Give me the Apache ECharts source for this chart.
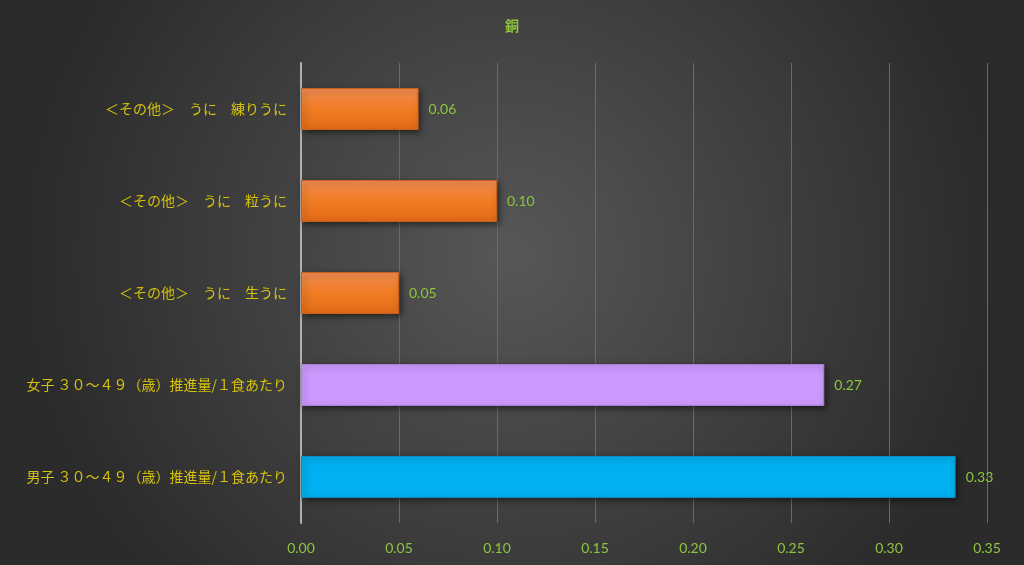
<!DOCTYPE html>
<html>
<head>
<meta charset="utf-8">
<title>銅</title>
<script src="https://cdn.jsdelivr.net/npm/echarts@6/dist/echarts.min.js"></script>
<style>
  html, body { margin: 0; padding: 0; }
  #main { width: 1024px; height: 565px; }
</style>
</head>
<body>
<div id="main"></div>
<script type="text/javascript">
// データ（下から順）
var categories = [
  '男子 ３０～４９（歳）推進量/１食あたり',
  '女子 ３０～４９（歳）推進量/１食あたり',
  '＜その他＞　うに　生うに',
  '＜その他＞　うに　粒うに',
  '＜その他＞　うに　練りうに'
];
var values = [0.334, 0.267, 0.05, 0.10, 0.06];
var xTicks = [0, 0.05, 0.10, 0.15, 0.20, 0.25, 0.30, 0.35];

var orange = {
  type: 'linear', x: 0, y: 0, x2: 0, y2: 1,
  colorStops: [{ offset: 0, color: '#f28c52' }, { offset: 0.5, color: '#f07c24' }, { offset: 1, color: '#e26a16' }]
};
var barColors = ['#00b0f0', '#cc99ff', orange, orange, orange];
var borderColors = ['#0a8cc0', '#a57fd0', '#c9601c', '#c9601c', '#c9601c'];

var myChart = echarts.init(document.getElementById('main'));

var option = {
  backgroundColor: {
    type: 'radial', x: 0.5, y: 0.45, r: 0.85,
    colorStops: [{ offset: 0, color: '#575757' }, { offset: 1, color: '#2b2b2b' }]
  },
  textStyle: { fontFamily: '"Noto Sans CJK JP", sans-serif' },
  title: {
    text: '銅',
    left: 'center',
    top: 14,
    textStyle: { color: '#8cc63f', fontSize: 14, fontWeight: 'bold' }
  },
  grid: { left: 301, right: 37, top: 63, bottom: 42 },
  xAxis: {
    type: 'value',
    min: xTicks[0],
    max: xTicks[xTicks.length - 1],
    interval: 0.05,
    axisLine: { show: false },
    axisTick: { show: false },
    splitLine: { show: true, lineStyle: { color: '#6a6a6a', width: 1 } },
    axisLabel: {
      color: '#8cc63f',
      fontSize: 14,
      fontFamily: 'Lato, sans-serif',
      margin: 18,
      formatter: function (v) { return v.toFixed(2); }
    }
  },
  yAxis: {
    type: 'category',
    data: categories,
    axisLine: { show: true, lineStyle: { color: '#b0b0b0', width: 2 } },
    axisTick: { show: false },
    axisLabel: { color: '#d4c20c', fontSize: 14, margin: 14 }
  },
  series: [{
    type: 'bar',
    barWidth: 42,
    data: values.map(function (v, i) {
      return {
        value: v,
        itemStyle: {
          color: barColors[i],
          borderColor: borderColors[i],
          borderWidth: 1,
          shadowColor: 'rgba(0,0,0,0.5)',
          shadowBlur: 6,
          shadowOffsetX: 2,
          shadowOffsetY: 2
        }
      };
    }),
    label: {
      show: true,
      position: 'right',
      distance: 10,
      color: '#8cc63f',
      fontSize: 14,
      fontFamily: 'Lato, sans-serif',
      formatter: function (p) { return p.value.toFixed(2); }
    }
  }]
};

myChart.setOption(option);
</script>
</body>
</html>
